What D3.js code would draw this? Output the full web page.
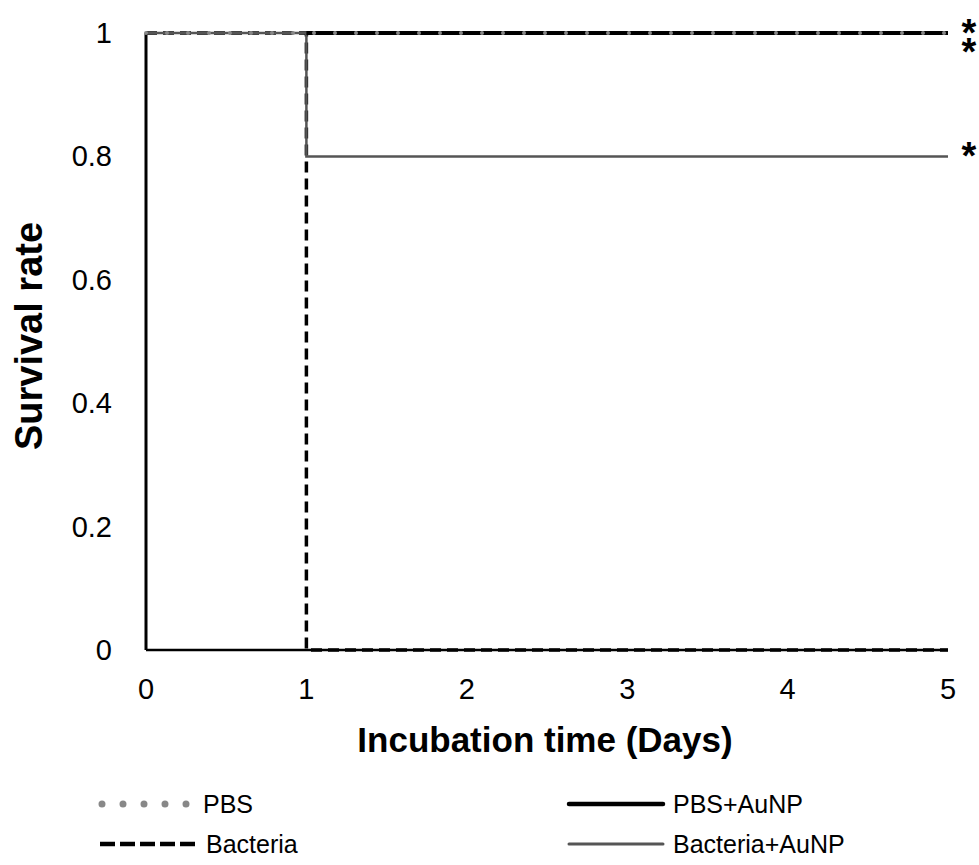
<!DOCTYPE html>
<html>
<head>
<meta charset="utf-8">
<script src="https://cdn.jsdelivr.net/npm/d3@7"></script>
<style>
  body { margin: 0; background: #fff; }
  text { font-family: "Liberation Sans", Arial, sans-serif; }
</style>
</head>
<body>
<div id="chart"></div>
<script>
// data (Kaplan-Meier style step curves)
const days = [0, 1, 2, 3, 4, 5];
const yTicks = [0, 0.2, 0.4, 0.6, 0.8, 1];
const yTickLabels = ["0", "0.2", "0.4", "0.6", "0.8", "1"];

const pbsX = [0, 5];
const pbsY = [1, 1];
const pbsAuX = [1, 5];
const pbsAuY = [1, 1];
const bactX = [0, 1, 1, 5];
const bactY = [1, 1, 0, 0];
const bactAuX = [0, 1, 1, 5];
const bactAuY = [1, 1, 0.8, 0.8];

// significance markers: survival level and how many stars stacked
const starLevels = [1, 0.8];
const starCounts = [2, 1];

let W = 979, H = 865;
let svg = d3.select("#chart").append("svg")
  .attr("width", W)
  .attr("height", H);

const x = d3.scaleLinear().domain([0, 5]).range([146, 948]);
const y = d3.scaleLinear().domain([0, 1]).range([650, 33]);

// axes lines
svg.append("line")
  .attr("x1", x(0)).attr("x2", x(0))
  .attr("y1", y(0)).attr("y2", y(1))
  .attr("stroke", "#000").attr("stroke-width", 3);
svg.append("line")
  .attr("x1", x(0)).attr("x2", x(5))
  .attr("y1", y(0)).attr("y2", y(0))
  .attr("stroke", "#000").attr("stroke-width", 2.5);

// tick labels
svg.selectAll(".ylab")
  .data(yTicks)
  .enter()
  .append("text")
  .attr("x", 112)
  .attr("y", d => y(d) + 10)
  .attr("text-anchor", "end")
  .style("font-size", "29px")
  .text((d, i) => yTickLabels[i]);

svg.selectAll(".xlab")
  .data(days)
  .enter()
  .append("text")
  .attr("x", d => x(d))
  .attr("y", 699)
  .attr("text-anchor", "middle")
  .style("font-size", "29px")
  .text(d => d);

svg.append("text")
  .attr("x", 545)
  .attr("y", 752)
  .attr("text-anchor", "middle")
  .style("font-size", "35px")
  .style("font-weight", "bold")
  .text("Incubation time (Days)");

svg.append("text")
  .attr("transform", "translate(42,336) rotate(-90)")
  .attr("text-anchor", "middle")
  .style("font-size", "38px")
  .style("font-weight", "bold")
  .text("Survival rate");

const line = d3.line().x(d => x(d[0])).y(d => y(d[1]));
const zip = (a, b) => a.map((v, i) => [v, b[i]]);

// series styles, draw order bottom to top
const series = [
  { xs: bactX, ys: bactY, stroke: "#000", width: 3.5, dash: "11,6" },
  { xs: bactAuX, ys: bactAuY, stroke: "#555", width: 2.5, dash: null },
  { xs: pbsAuX, ys: pbsAuY, stroke: "#000", width: 4, dash: null },
  { xs: pbsX, ys: pbsY, stroke: "#888", width: 4, dash: "0,21", cap: "round" }
];

series.forEach(s => {
  svg.append("path")
    .attr("d", line(zip(s.xs, s.ys)))
    .attr("fill", "none")
    .attr("stroke", s.stroke)
    .attr("stroke-width", s.width)
    .attr("stroke-dasharray", s.dash)
    .attr("stroke-linecap", s.cap || "butt");
});

// stars, stacked ones share one text element
let starText = svg.selectAll(".star")
  .data(starLevels)
  .enter()
  .append("text")
  .attr("text-anchor", "middle")
  .style("font-size", "38px")
  .style("font-weight", "bold");

starText.each(function(d, i) {
  for (let k = 0; k < starCounts[i]; k++) {
    d3.select(this).append("tspan")
      .attr("x", 969)
      .attr("y", y(d) + 13 + k * 19)
      .text("*");
  }
});

// legend
const legend = [
  { name: "PBS", x0: 102, x1: 190, ly: 804, stroke: "#888", width: 7, dash: "0,21", cap: "round", tx: 203 },
  { name: "Bacteria", x0: 100, x1: 196, ly: 844, stroke: "#000", width: 4.5, dash: "15,5", cap: "butt", tx: 206 },
  { name: "PBS+AuNP", x0: 569, x1: 663, ly: 804, stroke: "#000", width: 4.5, dash: null, cap: "round", tx: 673 },
  { name: "Bacteria+AuNP", x0: 569, x1: 663, ly: 844, stroke: "#555", width: 3, dash: null, cap: "round", tx: 673 }
];

legend.forEach(l => {
  svg.append("line")
    .attr("x1", l.x0).attr("x2", l.x1)
    .attr("y1", l.ly).attr("y2", l.ly)
    .attr("stroke", l.stroke)
    .attr("stroke-width", l.width)
    .attr("stroke-dasharray", l.dash)
    .attr("stroke-linecap", l.cap);
  svg.append("text")
    .attr("x", l.tx)
    .attr("y", l.ly + 9)
    .style("font-size", "25px")
    .text(l.name);
});
</script>
</body>
</html>
